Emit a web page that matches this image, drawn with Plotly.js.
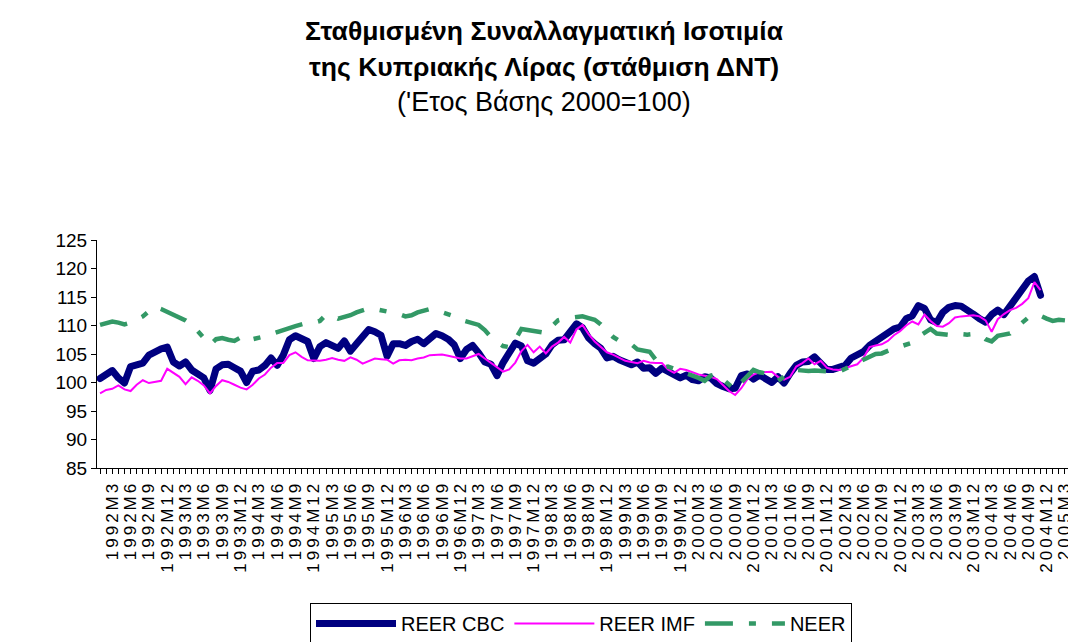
<!DOCTYPE html>
<html>
<head>
<meta charset="utf-8">
<script src="https://cdn.plot.ly/plotly-3.0.1.min.js"></script>
<style>
  html, body { margin: 0; padding: 0; background: #fff; }
  #chart { width: 1068px; height: 642px; }
  #chart .xtick text { letter-spacing: 3px; }
  #chart .scatterlayer .trace:nth-child(1) .js-line { stroke-linejoin: round; stroke-linecap: round; }
</style>
</head>
<body>
<div id="chart"></div>
<script>
// ---- categories (monthly, 1992M1 .. 2005M3) ----
var years = [1992, 1993, 1994, 1995, 1996, 1997, 1998, 1999, 2000, 2001, 2002, 2003, 2004, 2005];
var months = [1, 2, 3, 4, 5, 6, 7, 8, 9, 10, 11, 12];
var categories = [];
years.forEach(function (y) {
  months.forEach(function (m) {
    if (y < 2005 || m <= 3) categories.push(y + "M" + m);
  });
});
// tick labels shown every 3rd month (M3, M6, M9, M12)
var tickLabels = categories.map(function (c, i) { return (i % 3 === 2) ? c : ""; });

// ---- series values ----
var reerCBC = [
  100.7, 101.6, 102.1, 100.8, 99.9, 102.8, 103.0, 103.4, 104.8, 105.4, 105.9, 106.2,
  103.6, 102.9, 103.6, 102.2, 101.6, 100.8, 98.6, 102.4, 103.1, 103.2, 102.6, 102.0,
  100.0, 102.0, 102.2, 103.0, 104.3, 103.0, 104.8, 107.5, 108.2, 107.6, 107.2, 104.2,
  106.3, 107.0, 106.6, 106.0, 107.3, 105.5, 106.8, 108.3, 109.3, 108.9, 108.3, 104.6,
  106.8, 106.8, 106.5, 107.2, 107.6, 106.8, 107.8, 108.6, 108.2, 107.6, 106.6, 104.2,
  105.8, 106.5, 105.2, 103.6, 103.2, 101.2, 103.5, 105.3, 106.9, 106.4, 103.8, 103.4,
  104.1, 105.0, 106.6, 107.4, 107.5, 109.0, 110.3, 109.6, 107.8, 106.8, 106.0, 104.3,
  104.6, 104.0, 103.7, 103.1, 103.6, 102.5, 102.6, 101.6, 102.5, 101.9, 101.6, 100.8,
  101.3, 100.5, 100.3, 101.0, 100.8, 99.8, 99.3, 98.9, 99.0, 101.2, 101.5, 100.6,
  101.3, 100.5, 100.0, 101.0, 99.9, 101.6, 103.0, 103.6, 103.7, 104.5, 103.4, 102.3,
  102.3, 102.5, 103.0, 104.3, 104.8, 105.4, 106.5, 107.2, 108.0, 108.9, 109.4, 109.7,
  111.2, 111.7, 113.5, 113.0, 111.0, 110.5, 112.3, 113.2, 113.5, 113.4, 112.5, 112.0,
  111.2, 110.6, 111.9, 112.7, 111.9, 113.4, 115.0, 116.8, 117.8, 118.6, 115.3
];
var reerIMF = [
  98.1, 98.7, 98.9, 99.5, 98.8, 98.5, 99.6, 100.4, 99.9, 100.1, 100.3, 102.4,
  101.7, 101.0, 99.7, 100.9, 100.3, 99.5, 98.1, 99.4, 100.4, 100.1, 99.6, 99.1,
  98.8, 99.6, 100.7, 101.4, 102.6, 103.4, 103.4, 104.8, 105.3, 104.5, 103.9, 103.8,
  103.8, 104.0, 104.3, 104.0, 103.8, 104.4, 104.0, 103.3, 103.8, 104.2, 104.1, 104.0,
  103.3, 103.9, 104.0, 103.9, 104.2, 104.4, 104.8, 104.9, 104.9, 104.7, 104.5, 104.2,
  104.2, 104.6, 105.0, 104.2, 103.4, 102.6, 101.9, 102.3, 103.5, 105.5, 106.6, 105.3,
  106.3, 105.1, 106.3, 107.0, 108.0, 107.0, 109.3, 110.1, 108.5, 107.2, 106.2, 105.3,
  104.9, 104.4, 103.8, 103.6, 103.4, 103.8, 103.5, 103.4, 103.4, 102.3, 101.7, 102.4,
  102.2, 101.8, 101.4, 101.2, 101.0, 100.6, 99.6, 98.5, 97.8, 99.0, 100.6, 101.4,
  101.8, 101.8, 101.9, 101.0, 100.5, 101.0, 102.8, 103.4, 104.2, 103.2, 103.8, 102.6,
  102.3, 102.2, 102.5, 102.9, 103.2, 104.3, 106.2, 106.5, 106.7, 107.3, 108.3, 109.0,
  110.0, 110.7, 110.2, 111.9, 110.8, 109.9, 109.8, 110.4, 111.4, 111.6, 111.7, 111.8,
  111.6, 110.9, 108.9, 111.1, 112.0, 112.7, 113.1, 113.8, 114.8, 117.6, 116.2
];
var neer = [
  110.1, 110.4, 110.7, 110.5, 110.2, 110.5, 111.0, 111.6, 112.5, 113.3, 112.9, 112.4,
  112.0, 111.4, 110.9, 110.2, 109.0, 107.8, 106.6, 107.6, 107.8, 107.5, 107.3, 107.9,
  107.2, 107.6, 107.8, 108.1, 108.5, 108.9, 109.3, 109.5, 109.9, 110.2, 110.5, 110.5,
  110.8, 111.9, 111.7, 111.2, 111.4, 111.8, 112.3, 112.7, 113.0, 112.9, 112.7, 112.4,
  112.2, 112.0, 111.6, 111.8, 112.3, 112.6, 112.9, 112.7, 112.4, 112.0, 111.6, 111.0,
  110.7, 110.4, 110.1, 109.2, 108.0, 107.1, 106.4, 106.2, 107.5, 109.4, 109.2, 108.9,
  108.7, 108.7, 109.9, 110.9, 111.2, 111.3, 111.5, 111.6, 111.3, 111.0, 110.2, 109.2,
  108.0, 107.3, 106.9, 106.7, 105.8, 105.6, 105.4, 104.0, 102.5, 102.8, 102.5, 102.0,
  101.6, 101.3, 100.8, 100.3, 101.2, 101.5, 100.5, 99.5, 98.7, 100.0, 101.2, 102.2,
  101.8, 101.6, 101.0, 100.3, 101.0, 101.8, 102.2, 102.0, 102.0, 102.1, 102.0, 102.0,
  101.9, 101.9, 102.3, 102.9, 103.5, 104.0, 104.6, 105.0, 105.1, 105.6, 106.0, 106.3,
  106.6, 107.0, 108.0, 108.8, 109.4, 108.6, 108.4, 108.3, 108.2, 108.5, 108.4, 108.5,
  108.4, 107.6, 107.2, 108.2, 108.4, 108.6, 109.6, 110.6, 111.4, 111.9, 111.7, 111.2,
  110.8, 111.0, 110.9
];
var seriesNames = ["REER CBC", "REER IMF", "NEER"];
var yTickVals = [85, 90, 95, 100, 105, 110, 115, 120, 125];

var FONT = "Liberation Sans, Arial, Helvetica, sans-serif";

var traces = [
  {
    type: "scatter", mode: "lines", name: seriesNames[0],
    x: categories.slice(0, reerCBC.length), y: reerCBC,
    line: { color: "#000080", width: 7 }
  },
  {
    type: "scatter", mode: "lines", name: seriesNames[1],
    x: categories.slice(0, reerIMF.length), y: reerIMF,
    line: { color: "#FF00FF", width: 2 }
  },
  {
    type: "scatter", mode: "lines", name: seriesNames[2],
    x: categories.slice(0, neer.length), y: neer,
    line: { color: "#339966", width: 4.5, dash: "28px,16px,7px,16px" }
  }
];

var TITLE_X = (544 - 97) / 971;

var layout = {
  width: 1068, height: 642,
  paper_bgcolor: "#ffffff", plot_bgcolor: "#ffffff",
  font: { family: FONT, color: "#000000", size: 18 },
  margin: { l: 97, r: 0, t: 240, b: 174, pad: 0 },
  title: {
    text: "<b>Σταθμισμένη Συναλλαγματική Ισοτιμία</b>",
    font: { family: FONT, size: 26.5, color: "#000" },
    xref: "container", x: 544 / 1068, xanchor: "center",
    yref: "container", y: 1 - 31 / 642, yanchor: "middle"
  },
  annotations: [
    {
      text: "<b>της Κυπριακής Λίρας (στάθμιση ΔΝΤ)</b>",
      xref: "paper", yref: "paper", showarrow: false,
      x: TITLE_X, y: 1 + (240 - 67) / 228, xanchor: "center", yanchor: "middle",
      font: { family: FONT, size: 26.5, color: "#000" }
    },
    {
      text: "('Ετος Βάσης 2000=100)",
      xref: "paper", yref: "paper", showarrow: false,
      x: TITLE_X, y: 1 + (240 - 102) / 228, xanchor: "center", yanchor: "middle",
      font: { family: FONT, size: 27, color: "#000" }
    }
  ],
  showlegend: true,
  legend: {
    orientation: "h",
    xref: "paper", x: (581 - 97) / 971, xanchor: "center",
    yref: "container", y: 1 - 603 / 642, yanchor: "top",
    bordercolor: "#000", borderwidth: 1, bgcolor: "#fff",
    font: { family: FONT, size: 20, color: "#000" },
    itemwidth: 80, tracegroupgap: 0
  },
  xaxis: {
    type: "category",
    categoryorder: "array", categoryarray: categories,
    range: [-0.5, categories.length - 0.5],
    tickmode: "array", tickvals: categories, ticktext: tickLabels,
    tickangle: -90,
    ticks: "outside", ticklen: 5, tickwidth: 1, tickcolor: "#000",
    tickfont: { family: FONT, size: 17, color: "#000" },
    showline: true, linecolor: "#000", linewidth: 1,
    showgrid: false, zeroline: false, fixedrange: true
  },
  yaxis: {
    range: [85, 125],
    tickmode: "array", tickvals: yTickVals,
    ticks: "outside", ticklen: 5, tickwidth: 1, tickcolor: "#000",
    tickfont: { family: FONT, size: 19, color: "#000" },
    showline: true, linecolor: "#000", linewidth: 1,
    showgrid: false, zeroline: false, fixedrange: true
  }
};

Plotly.newPlot("chart", traces, layout, { displayModeBar: false, staticPlot: true });
</script>
</body>
</html>
